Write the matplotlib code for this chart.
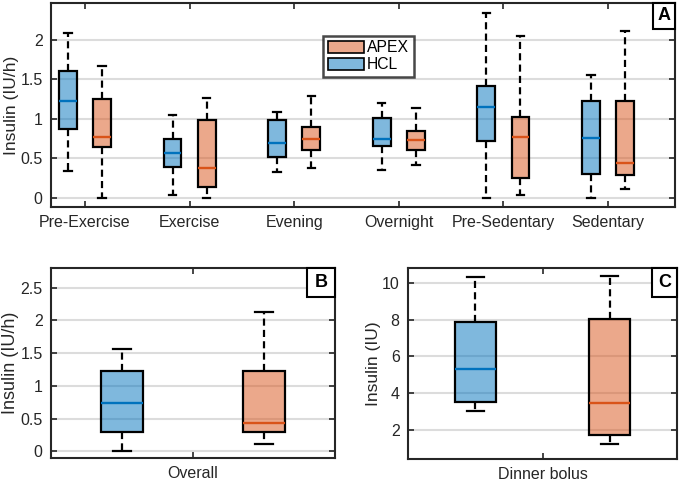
import matplotlib
matplotlib.use("Agg")
import matplotlib.pyplot as plt
from matplotlib.patches import Patch, Rectangle

plt.rcParams['font.family'] = ['Liberation Sans', 'DejaVu Sans']

# ---------------- data ----------------
categories = ["Pre-Exercise", "Exercise", "Evening", "Overnight", "Pre-Sedentary", "Sedentary"]
# [whislo, q1, med, q3, whishi]
hcl_A = [
    [0.34, 0.87, 1.23, 1.61, 2.09],
    [0.03, 0.39, 0.57, 0.74, 1.05],
    [0.32, 0.52, 0.69, 0.98, 1.09],
    [0.35, 0.66, 0.74, 1.01, 1.20],
    [0.00, 0.72, 1.15, 1.42, 2.34],
    [0.00, 0.30, 0.75, 1.23, 1.56],
]
apex_A = [
    [0.00, 0.64, 0.77, 1.25, 1.67],
    [0.00, 0.13, 0.37, 0.98, 1.27],
    [0.38, 0.60, 0.74, 0.89, 1.29],
    [0.41, 0.60, 0.73, 0.84, 1.14],
    [0.03, 0.25, 0.77, 1.02, 2.05],
    [0.11, 0.29, 0.44, 1.23, 2.12],
]
hcl_B = [0.00, 0.30, 0.745, 1.23, 1.56]
apex_B = [0.12, 0.29, 0.44, 1.23, 2.13]
hcl_C = [3.05, 3.50, 5.31, 7.85, 10.33]
apex_C = [1.24, 1.76, 3.48, 8.05, 10.38]

series_names = ["APEX", "HCL"]
yticks_A = [0, 0.5, 1, 1.5, 2]
ytick_labels_A = ["0", "0.5", "1", "1.5", "2"]
yticks_B = [0, 0.5, 1, 1.5, 2, 2.5]
ytick_labels_B = ["0", "0.5", "1", "1.5", "2", "2.5"]
yticks_C = [2, 4, 6, 8, 10]
ytick_labels_C = ["2", "4", "6", "8", "10"]

# ---------------- style ----------------
BLUE = (0.0, 0.447, 0.741)
ORANGE = (0.85, 0.325, 0.098)
BLUE_FILL = (0.0, 0.447, 0.741, 0.5)
ORANGE_FILL = (0.85, 0.325, 0.098, 0.5)
TXT = '#262626'
FS = 11.5
LFS = 12.5


def stats(v):
    return dict(whislo=v[0], q1=v[1], med=v[2], q3=v[3], whishi=v[4], fliers=[])


def draw(ax, vals, positions, width, fill, medc):
    ax.bxp([stats(v) for v in vals], positions=positions, widths=width,
           patch_artist=True, showfliers=False, manage_ticks=False,
           capwidths=width * 0.42,
           boxprops=dict(facecolor=fill, edgecolor='black', linewidth=1.6),
           medianprops=dict(color=medc, linewidth=1.7),
           whiskerprops=dict(color='black', linewidth=1.6, linestyle=(0, (3.2, 1.9))),
           capprops=dict(color='black', linewidth=1.6), zorder=3)


def style(ax):
    ax.grid(axis='y', color='#dcdcdc', linewidth=1.5)
    ax.set_axisbelow(True)
    ax.tick_params(direction='in', top=True, right=True, length=4, width=1.2,
                   labelsize=FS, colors=TXT, pad=6)
    for s in ax.spines.values():
        s.set_linewidth(1.5)
        s.set_color(TXT)


def letter(ax, txt, w, h):
    ax.add_patch(Rectangle((1 - w, 1 - h), w, h, transform=ax.transAxes,
                           facecolor='white', edgecolor='black', linewidth=1.5,
                           zorder=5, clip_on=False))
    ax.text(1 - w / 2, 1 - h / 2, txt, transform=ax.transAxes, ha='center',
            va='center', fontsize=13, fontweight='bold', zorder=6)


fig = plt.figure(figsize=(6.8, 4.82), dpi=100)

# ---------------- panel A ----------------
axA = fig.add_axes([0.075, 0.5705, 0.9176, 0.4232])
style(axA)
n = len(categories)
centers = list(range(1, n + 1))
off, bw = 0.163, 0.17
draw(axA, hcl_A, [c - off for c in centers], bw, BLUE_FILL, BLUE)
draw(axA, apex_A, [c + off for c in centers], bw, ORANGE_FILL, ORANGE)
axA.set_xlim(0.675, 6.64)
axA.set_ylim(-0.12, 2.47)
axA.set_xticks(centers)
axA.set_xticklabels(categories)
axA.set_yticks(yticks_A)
axA.set_yticklabels(ytick_labels_A)
axA.set_ylabel("Insulin (IU/h)", fontsize=LFS, color=TXT, labelpad=1)
handles = [Patch(facecolor=ORANGE_FILL, edgecolor='black', linewidth=1.2),
           Patch(facecolor=BLUE_FILL, edgecolor='black', linewidth=1.2)]
leg = axA.legend(handles, series_names, loc='upper left', bbox_to_anchor=(0.436, 0.84),
                 fontsize=11.3, frameon=True, fancybox=False, handlelength=2.3,
                 handleheight=0.85, handletextpad=0.2, borderpad=0.3,
                 labelspacing=0.12, borderaxespad=0)
leg.get_frame().set_edgecolor('#1a1a1a')
leg.get_frame().set_linewidth(1.8)
letter(axA, "A", 0.035, 0.127)

# ---------------- panel B ----------------
axB = fig.add_axes([0.075, 0.0498, 0.4176, 0.3942])
style(axB)
draw(axB, [hcl_B], [0.25], 0.148, BLUE_FILL, BLUE)
draw(axB, [apex_B], [0.75], 0.148, ORANGE_FILL, ORANGE)
axB.set_xlim(0, 1)
axB.set_ylim(-0.1, 2.8)
axB.set_xticks([0.5])
axB.set_xticklabels(["Overall"])
axB.set_yticks(yticks_B)
axB.set_yticklabels(ytick_labels_B)
axB.set_ylabel("Insulin (IU/h)", fontsize=13, color=TXT, labelpad=1)
letter(axB, "B", 0.0986, 0.153)

# ---------------- panel C ----------------
axC = fig.add_axes([0.6, 0.0477, 0.3956, 0.3963])
style(axC)
draw(axC, [hcl_C], [0.25], 0.152, BLUE_FILL, BLUE)
draw(axC, [apex_C], [0.75], 0.152, ORANGE_FILL, ORANGE)
axC.set_xlim(0, 1)
axC.set_ylim(0.43, 10.8)
axC.set_xticks([0.5])
axC.set_xticklabels(["Dinner bolus"])
axC.set_yticks(yticks_C)
axC.set_yticklabels(ytick_labels_C)
axC.set_ylabel("Insulin (IU)", fontsize=LFS, color=TXT, labelpad=1)
letter(axC, "C", 0.093, 0.152)

fig.savefig("out.png", dpi=100)
